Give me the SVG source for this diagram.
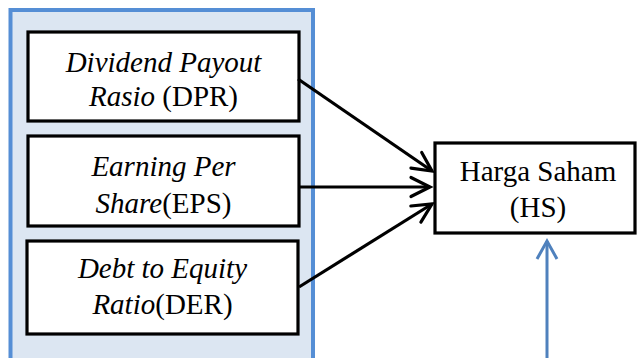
<svg xmlns="http://www.w3.org/2000/svg" width="637" height="358" viewBox="0 0 637 358">
<style>
.box{fill:#fff;stroke:#000;stroke-width:3.2}
.t{font-family:"Liberation Serif","Times New Roman",serif;font-size:29px;fill:#000;text-anchor:middle}
.i{font-style:italic}
.con{stroke:#000;stroke-width:3.2;fill:none}
.blue{stroke:#4F81BD;stroke-width:3;fill:none}
</style>
<defs>
<marker id="ah" markerUnits="userSpaceOnUse" viewBox="-22 -12 26 24" refX="0" refY="0" markerWidth="26" markerHeight="24" orient="auto">
<path d="M-19,-9.5 L0,0 L-19,9.5" fill="none" stroke="#000" stroke-width="3.2" stroke-linecap="round" stroke-linejoin="miter"/>
</marker>
<marker id="ahb" markerUnits="userSpaceOnUse" viewBox="-22 -12 26 24" refX="0" refY="0" markerWidth="26" markerHeight="24" orient="auto">
<path d="M-18,-10 L0,0 L-18,10" fill="none" stroke="#4F81BD" stroke-width="3" stroke-linejoin="miter"/>
</marker>
</defs>
<rect width="637" height="358" fill="#fff"/>
<g id="group-independent">
<rect x="10.5" y="10" width="302.5" height="360" fill="#DCE6F2" stroke="#558ED5" stroke-width="4"/>
</g>
<g id="node-dpr">
<rect class="box" x="28" y="32" width="271" height="89"/>
<text class="t i" x="163.5" y="72">Dividend Payout</text>
<text class="t" x="163.5" y="106"><tspan class="i">Rasio</tspan> (DPR)</text>
</g>
<g id="node-eps">
<rect class="box" x="28" y="136" width="271" height="90"/>
<text class="t i" x="163.5" y="176">Earning Per</text>
<text class="t" x="163.5" y="213"><tspan class="i">Share</tspan>(EPS)</text>
</g>
<g id="node-der">
<rect class="box" x="27" y="241" width="271" height="93"/>
<text class="t i" x="162.5" y="278">Debt to Equity</text>
<text class="t" x="162.5" y="314"><tspan class="i">Ratio</tspan>(DER)</text>
</g>
<g id="node-hs">
<rect class="box" x="435" y="143" width="200" height="90"/>
<text class="t" x="538" y="181">Harga Saham</text>
<text class="t" x="538" y="217">(HS)</text>
</g>
<g id="connectors">
<line class="con" x1="298" y1="79" x2="432" y2="171" marker-end="url(#ah)"/>
<line class="con" x1="300" y1="187" x2="430" y2="187" marker-end="url(#ah)"/>
<line class="con" x1="299" y1="287" x2="432" y2="204" marker-end="url(#ah)"/>
<line class="blue" x1="547" y1="360" x2="547" y2="241" marker-end="url(#ahb)"/>
</g>
</svg>
